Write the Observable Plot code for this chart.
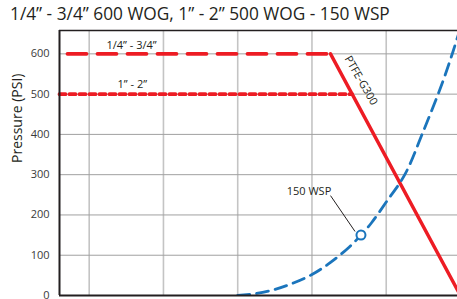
<!DOCTYPE html>
<html><head><meta charset="utf-8">
<script src="https://cdn.jsdelivr.net/npm/d3@7"></script>
<script src="https://cdn.jsdelivr.net/npm/@observablehq/plot@0.6"></script>
<style>
body{margin:0;background:#fff;width:457px;height:299px;overflow:hidden;position:relative;font-family:"Open Sans",sans-serif}
#title{position:absolute;left:10px;top:2px;font-size:17.3px;color:#231f20;white-space:nowrap}
#chart{position:absolute;left:0;top:0}
</style></head>
<body>
<div id="chart"></div>
<div id="title">1/4” - 3/4” 600 WOG, 1” - 2” 500 WOG - 150 WSP</div>
<script>
// Temperature (°F) gridlines and pressure (PSI) ticks
const tempGrid = [0, 100, 200, 300, 400, 500];
const pressureTicks = [0, 100, 200, 300, 400, 500, 600];
// 1/4" - 3/4" rating (dashed)
const smallTemps = [-40, 325];
const smallPsi = [600, 600];
// 1" - 2" rating (dotted)
const largeTemps = [-40, 354];
const largePsi = [500, 500];
// PTFE-G300 seat line
const ptfeTemps = [325, 500];
const ptfePsi = [600, 0];
// Saturated steam curve (150 WSP)
const steamTemps = [200, 225, 250, 275, 300, 325, 350, 366, 380, 400, 425, 450, 475, 490, 500];
const steamPsi = [0, 5, 15, 31, 52, 82, 120, 150, 180, 232, 300, 408, 525, 606, 665];
// Marker and annotations
const wspPoint = [{t: 366, p: 150}];
const leader = [{t1: 325, p1: 248, t2: 358, p2: 159}];
const labels = [
  {t: 57, p: 621, text: "1/4” - 3/4”", rotate: 0},
  {t: 58, p: 524, text: "1” - 2”", rotate: 0},
  {t: 366, p: 534, text: "PTFE-G300", rotate: 60},
  {t: 296, p: 258, text: "150 WSP", rotate: 0}
];

const red = "#ed1c24", blue = "#1b75bc";
const zip = (xs, ys) => xs.map((x, i) => ({t: x, p: ys[i]}));

const plot = Plot.plot({
  width: 457, height: 299,
  marginLeft: 59, marginRight: 0, marginTop: 30, marginBottom: 4,
  style: {fontFamily: "'Open Sans', sans-serif", background: "#fff"},
  x: {domain: [-40, 496], axis: null},
  y: {domain: [0, 658], axis: null},
  marks: [
    Plot.ruleX(tempGrid, {stroke: "#c4c4c4", strokeWidth: 1.6}),
    Plot.ruleY(pressureTicks.filter(d => d > 0), {stroke: "#a0a0a0", strokeWidth: 1}),
    Plot.axisY(pressureTicks, {tickSize: 0, tickPadding: 10, fontSize: 11, fill: "#3a3a3a", label: null}),
    Plot.text(["Pressure (PSI)"], {frameAnchor: "left", dx: -42, rotate: -90, fontSize: 14, fill: "#231f20"}),
    Plot.line(zip(smallTemps, smallPsi), {x: "t", y: "p", stroke: red, strokeWidth: 3.8, strokeDasharray: "19,11", strokeDashoffset: -8}),
    Plot.line(zip(largeTemps, largePsi), {x: "t", y: "p", stroke: red, strokeWidth: 3.8, strokeDasharray: "6,4"}),
    Plot.line(zip(ptfeTemps, ptfePsi), {x: "t", y: "p", stroke: red, strokeWidth: 3.4, clip: true}),
    Plot.line(zip(steamTemps, steamPsi), {x: "t", y: "p", stroke: blue, strokeWidth: 2.8, strokeDasharray: "12,7", curve: "catmull-rom", clip: true}),
    Plot.link(leader, {x1: "t1", y1: "p1", x2: "t2", y2: "p2", stroke: "#231f20", strokeWidth: 1}),
    Plot.dot(wspPoint, {x: "t", y: "p", r: 4.5, stroke: blue, strokeWidth: 2, fill: "white"}),
    Plot.text(labels, {x: "t", y: "p", text: "text", rotate: "rotate", fontSize: 11, fill: "#231f20"}),
    Plot.ruleY([0], {stroke: "#231f20", strokeWidth: 2}),
    Plot.ruleY([658], {stroke: "#231f20", strokeWidth: 1.5}),
    Plot.ruleX([-40], {stroke: "#231f20", strokeWidth: 2})
  ]
});
document.getElementById("chart").appendChild(plot);
</script>
</body></html>
